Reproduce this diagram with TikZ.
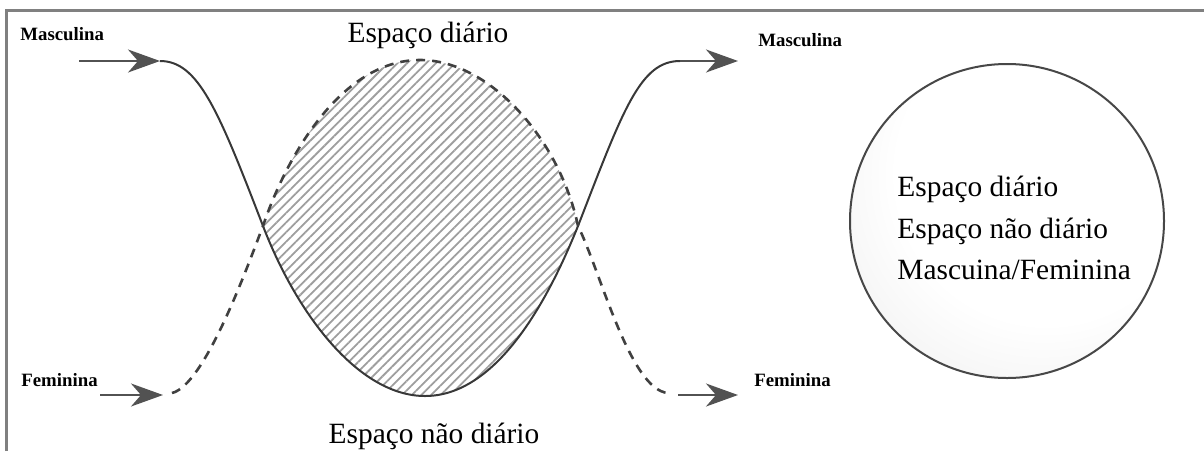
\documentclass[tikz,border=0pt]{standalone}
\usepackage{fontspec}
\setmainfont{Liberation Serif}
\usetikzlibrary{arrows.meta,patterns.meta}
\pgfdeclareradialshading{legendglow}{\pgfpoint{10bp}{12bp}}{color(0bp)=(white); color(24bp)=(white); color(52bp)=(black!11); color(66bp)=(black!16)}
\begin{document}
\begin{tikzpicture}[
        x=0.5pt, y=-0.5pt,
        frame/.style={line width=1.5pt, draw=black!50},
        curve/.style={line width=1pt, draw=black!78},
        dcurve/.style={line width=1.3pt, draw=black!75, dash pattern=on 4.5pt off 3.5pt},
        arrow/.style={-{Stealth[length=16pt, width=11.5pt, inset=5pt]}, line width=1.1pt, draw=black!68},
        hatch/.style={pattern={Lines[angle=45, distance=3.4pt, line width=0.9pt]}, pattern color=black!38},
        tag/.style={font=\fontsize{9.4}{11}\selectfont\bfseries, anchor=base west, inner sep=0pt},
        title/.style={font=\fontsize{14.7}{18}\selectfont, anchor=base},
        legend/.style={circle, draw=black!72, line width=1pt, minimum size=157pt, inner sep=0pt, shade, shading=legendglow}
    ]
        \useasboundingbox (0,0) rectangle (1204,451);
        % Frame (left and top edges only)
        \draw[frame] (6,451) -- (6,10) -- (1204,10);

        % Points of the two paths
        \coordinate (mascIn) at (79,61);
        \coordinate (mascA) at (160,61);
        \coordinate (mascB) at (680,61);
        \coordinate (mascOut) at (738,61);
        \coordinate (femIn) at (100,395);
        \coordinate (femA) at (163,395);
        \coordinate (femB) at (172,393);
        \coordinate (femC) at (668,393);
        \coordinate (femD) at (678,395);
        \coordinate (femOut) at (738,395);
        \coordinate (crossL) at (263,226);
        \coordinate (crossR) at (578,226);
        \coordinate (domeTop) at (420,60);
        \coordinate (bowlLow) at (425,396);

        % Hatched overlap
        \fill[hatch] (crossL) .. controls (285,160) and (340,60) .. (domeTop)
            .. controls (490,60) and (560,140) .. (crossR)
            .. controls (541,318) and (490,396) .. (bowlLow)
            .. controls (360,396) and (298,317) .. (crossL) -- cycle;

        % Masculina path (solid)
        \draw[arrow] (mascIn) -- (mascA);
        \draw[curve] (mascA) .. controls (198,61) and (218,109) .. (crossL)
            .. controls (298,317) and (360,396) .. (bowlLow)
            .. controls (490,396) and (541,318) .. (crossR)
            .. controls (623,110) and (640,61) .. (mascB);
        \draw[arrow] (mascB) -- (mascOut);

        % Feminina path (dashed)
        \draw[arrow] (femIn) -- (femA);
        \draw[dcurve] (femB) .. controls (205,385) and (248,265) .. (crossL)
            .. controls (285,160) and (340,60) .. (domeTop)
            .. controls (490,60) and (560,140) .. (crossR)
            .. controls (600,270) and (630,390) .. (femC);
        \draw[arrow] (femD) -- (femOut);

        % Labels
        \node[tag] (mascLeft) at (20,40) {Masculina};
        \node[tag] (mascRight) at (758,46) {Masculina};
        \node[tag] (femLeft) at (21,386) {Feminina};
        \node[tag] (femRight) at (754,386) {Feminina};
        \node[title] (daily) at (428,42) {Espaço diário};
        \node[title] (nondaily) at (434,443) {Espaço não diário};

        % Legend circle
        \node[legend] (legend) at (1007,221) {};
        \node[font=\fontsize{14.7}{20.7}\selectfont, align=left, anchor=west, inner sep=0pt] (legendText) at (897,228)
            {Espaço diário\\Espaço não diário\\Mascuina/Feminina};

    \end{tikzpicture}
\end{document}
